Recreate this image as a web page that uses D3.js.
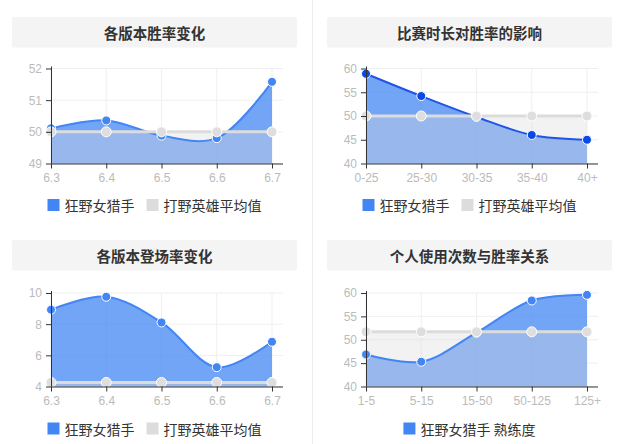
<!DOCTYPE html>
<html><head><meta charset="utf-8">
<script src="https://cdn.jsdelivr.net/npm/d3@7"></script>
<style>body{margin:0;background:#fff;} svg{display:block}</style>
</head><body><svg id="c" width="621" height="444"></svg>
<script>
// ---- data ----
const versions = ["6.3", "6.4", "6.5", "6.6", "6.7"];
const winRate = [50.11, 50.36, 49.88, 49.80, 51.58];
const winRateAvg = [50, 50, 50, 50, 50];
const winTicks = [49, 50, 51, 52];

const durations = ["0-25", "25-30", "30-35", "35-40", "40+"];
const durationWin = [58.9, 54.2, 49.8, 46.0, 45.0];
const durationAvg = [50, 50, 50, 50, 50];
const durationTicks = [40, 45, 50, 55, 60];

const pickRate = [8.93, 9.76, 8.11, 5.24, 6.87];
const pickRateAvg = [4.26, 4.26, 4.26, 4.26, 4.26];
const pickTicks = [4, 6, 8, 10];

const games = ["1-5", "5-15", "15-50", "50-125", "125+"];
const gamesWin = [46.85, 45.3, 51.5, 58.4, 59.6];
const gamesAvg = [51.7, 51.7, 51.7, 51.7, 51.7];
const gamesTicks = [40, 45, 50, 55, 60];

const titles = ["各版本胜率变化", "比赛时长对胜率的影响", "各版本登场率变化", "个人使用次数与胜率关系"];
const heroName = "狂野女猎手";
const avgName = "打野英雄平均值";
const masteryName = "狂野女猎手 熟练度";

// ---- styles ----
const BLUE = "#4285f4";
const GREY = "#dcdcdc";
const CJK = "'Noto Sans CJK SC','Noto Sans',sans-serif";
const LAT = "'Liberation Sans',Arial,sans-serif";

const svg = d3.select("#c");
svg.append("line").attr("x1", 312.5).attr("x2", 312.5).attr("y1", 0).attr("y2", 444)
  .attr("stroke", "#eeeeee").attr("stroke-width", 1);

const panels = [
  {title: titles[0], cats: versions, main: winRate, avg: winRateAvg, ticks: winTicks,
   legend: [[heroName, BLUE], [avgName, GREY]], dx: 0, dy: 0, top: 68.5, bottom: 163.5,
   lineColor: BLUE, dotColor: BLUE},
  {title: titles[1], cats: durations, main: durationWin, avg: durationAvg, ticks: durationTicks,
   legend: [[heroName, BLUE], [avgName, GREY]], dx: 315, dy: 0, top: 68.5, bottom: 163.5,
   lineColor: "#1f55e6", dotColor: "#0a49e6"},
  {title: titles[2], cats: versions, main: pickRate, avg: pickRateAvg, ticks: pickTicks,
   legend: [[heroName, BLUE], [avgName, GREY]], dx: 0, dy: 223, top: 293, bottom: 386.5,
   lineColor: BLUE, dotColor: BLUE},
  {title: titles[3], cats: games, main: gamesWin, avg: gamesAvg, ticks: gamesTicks,
   legend: [[masteryName, BLUE]], dx: 315, dy: 223, top: 293, bottom: 386.5,
   lineColor: BLUE, dotColor: BLUE}
];

panels.forEach(p => {
  const g = svg.append("g");
  const axisX = 51 + p.dx;
  const plotRight = axisX + 232;
  // title
  g.append("rect").attr("x", 12 + p.dx).attr("y", 17 + p.dy).attr("width", 285).attr("height", 30.5)
    .attr("rx", 2).attr("fill", "#f4f4f4");
  g.append("text").attr("x", 154.5 + p.dx).attr("y", 32.5 + p.dy)
    .attr("text-anchor", "middle").attr("dominant-baseline", "central")
    .attr("font-family", CJK).attr("font-size", 14.5).attr("font-weight", "bold")
    .attr("fill", "#333").text(p.title);

  const x = d3.scalePoint().domain(p.cats).range([axisX, axisX + 221]);
  const y = d3.scaleLinear().domain(d3.extent(p.ticks)).range([p.bottom, p.top]);

  // grid
  g.selectAll(".hg").data(p.ticks).enter().append("line")
    .attr("x1", axisX).attr("x2", plotRight).attr("y1", d => y(d)).attr("y2", d => y(d))
    .attr("stroke", "#efefef");
  g.selectAll(".vg").data(p.cats).enter().append("line")
    .attr("x1", d => x(d)).attr("x2", d => x(d)).attr("y1", p.top).attr("y2", p.bottom)
    .attr("stroke", "#efefef");

  const curve = d3.curveCatmullRom.alpha(0.5);
  const mainData = p.cats.map((c, i) => [c, p.main[i]]);
  const avgData = p.cats.map((c, i) => [c, p.avg[i]]);
  const area = d3.area().x(d => x(d[0])).y0(p.bottom).y1(d => y(d[1])).curve(curve);
  const line = d3.line().x(d => x(d[0])).y(d => y(d[1])).curve(curve);
  const areaAvg = d3.area().x(d => x(d[0])).y0(p.bottom).y1(d => y(d[1]));
  const lineAvg = d3.line().x(d => x(d[0])).y(d => y(d[1]));

  g.append("path").attr("d", area(mainData)).attr("fill", BLUE).attr("fill-opacity", 0.74);
  g.append("path").attr("d", areaAvg(avgData)).attr("fill", GREY).attr("fill-opacity", 0.36);
  g.append("path").attr("d", line(mainData)).attr("fill", "none").attr("stroke", p.lineColor).attr("stroke-width", 2);
  g.selectAll(".md").data(mainData).enter().append("circle")
    .attr("cx", d => x(d[0])).attr("cy", d => y(d[1])).attr("r", 4.5)
    .attr("fill", p.dotColor).attr("stroke", "#fff").attr("stroke-width", 1);
  g.append("path").attr("d", lineAvg(avgData)).attr("fill", "none").attr("stroke", GREY).attr("stroke-width", 3);
  g.selectAll(".ad").data(avgData).enter().append("circle")
    .attr("cx", d => x(d[0])).attr("cy", d => y(d[1])).attr("r", 5)
    .attr("fill", "#dedede").attr("stroke", "#fff").attr("stroke-width", 1);

  // axes
  const ya = g.append("g").attr("transform", `translate(${axisX},0)`)
    .call(d3.axisLeft(y).tickValues(p.ticks).tickSize(5).tickSizeOuter(0).tickPadding(4).tickFormat(d3.format("d")));
  ya.select(".domain").attr("stroke", "#333").attr("d", `M0.5,${p.bottom}V${p.top - 2}`);
  ya.selectAll(".tick line").attr("stroke", "#333");
  ya.selectAll(".tick text").attr("fill", "#bbb").attr("font-family", LAT).attr("font-size", 12);

  const xa = g.append("g").attr("transform", `translate(0,${p.bottom})`)
    .call(d3.axisBottom(x).tickSize(5).tickSizeOuter(0).tickPadding(5));
  xa.select(".domain").attr("stroke", "#333").attr("d", `M${axisX},0.5H${plotRight}`);
  xa.selectAll(".tick line").attr("stroke", "#333");
  xa.selectAll(".tick text").attr("fill", "#bbb").attr("font-family", LAT).attr("font-size", 12)
    .attr("dy", null).attr("y", 14.5).attr("dominant-baseline", "central");

  // legend
  const legY = p.dy === 0 ? 205 : 428.5;
  const lg = g.append("g");
  let cx = 0;
  p.legend.forEach((item, i) => {
    if (i > 0) cx += 12;
    lg.append("rect").attr("x", cx).attr("y", legY - 6).attr("width", 12).attr("height", 12).attr("fill", item[1]);
    const t = lg.append("text").attr("x", cx + 17).attr("y", legY)
      .attr("dominant-baseline", "central").attr("font-family", CJK).attr("font-size", 14)
      .attr("fill", "#333").text(item[0]);
    cx += 17 + t.node().getComputedTextLength();
  });
  lg.attr("transform", `translate(${154.5 + p.dx - cx / 2},0)`);
});
</script></body></html>
